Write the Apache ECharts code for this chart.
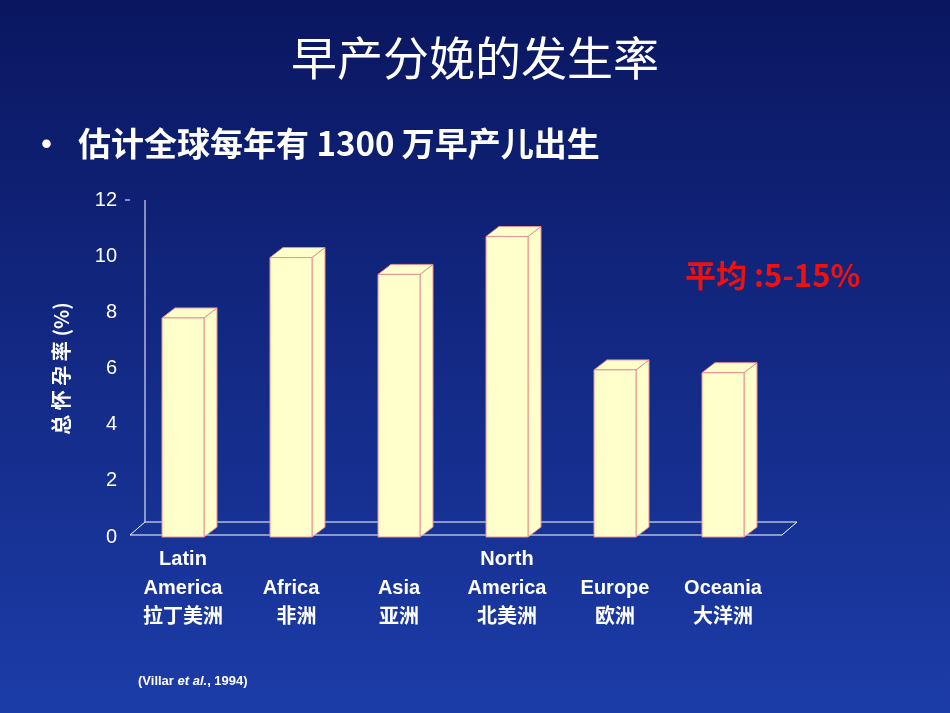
<!DOCTYPE html>
<html lang="zh">
<head>
    <meta charset="UTF-8">
    <script src="https://cdn.jsdelivr.net/npm/echarts@6/dist/echarts.min.js"></script>
    <title>早产分娩的发生率</title>
    <style>
        html, body { margin: 0; padding: 0; }
        #chart { width: 950px; height: 713px; }
    </style>
</head>
<body>
    <div id="chart"></div>
    <script>
        // 各洲早产率 (%)
        let regions = ['Latin\nAmerica\n拉丁美洲', '\nAfrica\n  非洲', '\nAsia\n亚洲', 'North\nAmerica\n北美洲', '\nEurope\n欧洲', '\nOceania\n大洋洲']
        let rates = [7.8, 9.95, 9.35, 10.7, 5.95, 5.85]
        let yTicks = [0, 2, 4, 6, 8, 10, 12]

        let chart = echarts.init(document.getElementById('chart'))
        let dx = 13, dy = 10, bw = 42

        function renderBar(params, api) {
            let top = api.coord([api.value(0), api.value(1)])
            let bot = api.coord([api.value(0), 0])
            let x0 = top[0] - bw / 2, x1 = top[0] + bw / 2
            let st = { fill: '#ffffcc', stroke: '#e89090', lineWidth: 1 }
            return {
                type: 'group',
                children: [
                    { type: 'polygon', shape: { points: [[x1, top[1]], [x1 + dx, top[1] - dy], [x1 + dx, bot[1] - dy], [x1, bot[1]]] }, style: st },
                    { type: 'polygon', shape: { points: [[x0, top[1]], [x0 + dx, top[1] - dy], [x1 + dx, top[1] - dy], [x1, top[1]]] }, style: st },
                    { type: 'rect', shape: { x: x0, y: top[1], width: bw, height: bot[1] - top[1] }, style: st }
                ]
            }
        }

        let option = {
            backgroundColor: {
                type: 'linear', x: 0, y: 0, x2: 0, y2: 1,
                colorStops: [{ offset: 0, color: '#0a1660' }, { offset: 1, color: '#1c3ca8' }]
            },
            title: [
                { text: '早产分娩的发生率', left: 'center', top: 30,
                  textStyle: { color: '#fff', fontSize: 46, fontWeight: 'normal', fontFamily: 'Noto Sans CJK SC',
                    textShadowColor: '#000', textShadowOffsetX: 3, textShadowOffsetY: 3, textShadowBlur: 0 } },
                { text: '•  估计全球每年有 1300 万早产儿出生', left: 25, top: 122,
                  textStyle: { color: '#fff', fontSize: 33, fontWeight: 'bold', fontFamily: 'Noto Sans CJK SC' } },
                { text: '平均 :5-15%', left: 680, top: 255,
                  textStyle: { color: '#ee1111', fontSize: 31, fontWeight: 'bold', fontFamily: 'Noto Sans CJK SC' } },
                { text: '{a|(Villar }{b|et al.}{a|, 1994)}', left: 133, top: 670,
                  textStyle: { rich: {
                      a: { color: '#fff', fontSize: 13, fontFamily: 'Liberation Sans' },
                      b: { color: '#fff', fontSize: 13, fontStyle: 'italic', fontFamily: 'Liberation Sans' } } } }
            ],
            grid: { left: 129, right: 173, top: 200, bottom: 176 },
            xAxis: {
                type: 'category', data: regions,
                axisLine: { show: false }, axisTick: { show: false },
                axisLabel: { color: '#fff', fontSize: 20, fontWeight: 'bold', lineHeight: 29, margin: 8,
                    fontFamily: 'Liberation Sans, Noto Sans CJK SC' }
            },
            yAxis: {
                type: 'value', min: 0, max: 12, interval: 2,
                name: '总 怀 孕 率 (%)', nameLocation: 'middle', nameGap: 58, nameRotate: 90,
                nameTextStyle: { color: '#fff', fontSize: 20, fontWeight: 'bold', fontFamily: 'Noto Sans CJK SC' },
                axisLine: { show: false }, axisTick: { show: false }, splitLine: { show: false },
                axisLabel: { color: '#fff', fontSize: 20, margin: 12, fontFamily: 'Liberation Sans',
                    formatter: v => yTicks.includes(v) ? String(v) : '' }
            },
            graphic: [
                { type: 'polyline', shape: { points: [[145, 200], [145, 522]] }, style: { stroke: '#fff', lineWidth: 1 } },
                { type: 'polygon', shape: { points: [[130, 535], [145, 522], [797, 522], [782, 535]] },
                  style: { fill: 'none', stroke: '#fff', lineWidth: 1 }, z: -1 },
                { type: 'polyline', shape: { points: [[125, 200], [130, 200]] }, style: { stroke: '#fff' } }
            ],
            series: [{
                type: 'custom', renderItem: renderBar,
                data: rates.map((v, i) => [i, v])
            }]
        }
        chart.setOption(option)
    </script>
</body>
</html>
